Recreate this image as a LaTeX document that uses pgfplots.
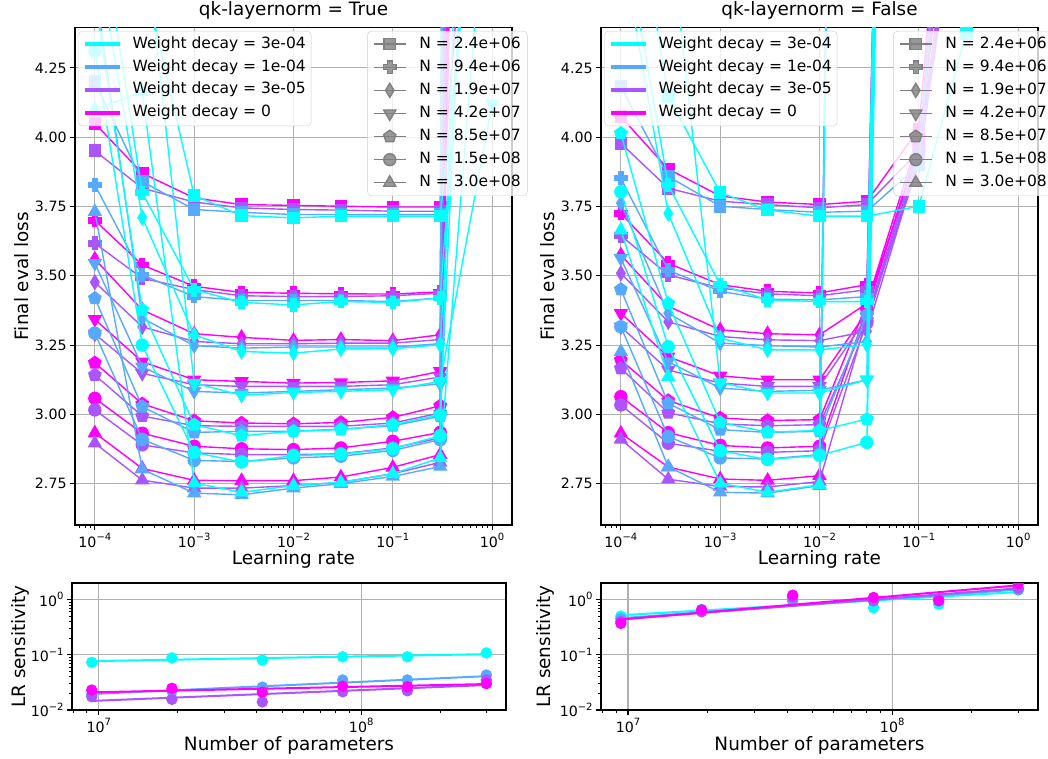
\documentclass[border=0pt]{standalone}
\usepackage{fontspec}
\setmainfont{DejaVu Sans}
\usepackage{pgfplots}
\pgfplotsset{compat=1.18}
\usepackage{pgfplotstable}
\usetikzlibrary{plotmarks}

\definecolor{cC}{RGB}{0,255,255}
\definecolor{cB}{RGB}{85,170,255}
\definecolor{cP}{RGB}{170,85,255}
\definecolor{cM}{RGB}{255,0,255}
\definecolor{gr}{RGB}{128,128,128}
\definecolor{gridc}{RGB}{176,176,176}
\definecolor{legc}{RGB}{204,204,204}

\newcommand{\tp}[1]{10\raisebox{0.45em}{\fontsize{10}{10}\selectfont #1}}
\newcommand{\lf}{\fontsize{15.5}{15.5}\selectfont}

\pgfdeclareplotmark{fplus}{%
  \pgfpathmoveto{\pgfqpoint{-\pgfplotmarksize}{-0.4\pgfplotmarksize}}%
  \pgfpathlineto{\pgfqpoint{-\pgfplotmarksize}{0.4\pgfplotmarksize}}%
  \pgfpathlineto{\pgfqpoint{-0.4\pgfplotmarksize}{0.4\pgfplotmarksize}}%
  \pgfpathlineto{\pgfqpoint{-0.4\pgfplotmarksize}{\pgfplotmarksize}}%
  \pgfpathlineto{\pgfqpoint{0.4\pgfplotmarksize}{\pgfplotmarksize}}%
  \pgfpathlineto{\pgfqpoint{0.4\pgfplotmarksize}{0.4\pgfplotmarksize}}%
  \pgfpathlineto{\pgfqpoint{\pgfplotmarksize}{0.4\pgfplotmarksize}}%
  \pgfpathlineto{\pgfqpoint{\pgfplotmarksize}{-0.4\pgfplotmarksize}}%
  \pgfpathlineto{\pgfqpoint{0.4\pgfplotmarksize}{-0.4\pgfplotmarksize}}%
  \pgfpathlineto{\pgfqpoint{0.4\pgfplotmarksize}{-\pgfplotmarksize}}%
  \pgfpathlineto{\pgfqpoint{-0.4\pgfplotmarksize}{-\pgfplotmarksize}}%
  \pgfpathlineto{\pgfqpoint{-0.4\pgfplotmarksize}{-0.4\pgfplotmarksize}}%
  \pgfpathclose
  \pgfusepathqfillstroke
}

\tikzset{
  mk1/.style={mark=square*, mark size=5.6pt},
  mk2/.style={mark=fplus, mark size=6.2pt},
  mk3/.style={mark=diamond*, mark size=7pt, mark options={xscale=0.8}},
  mk4/.style={mark=triangle*, mark size=7pt, mark options={rotate=180}},
  mk5/.style={mark=pentagon*, mark size=6.4pt},
  mk6/.style={mark=*, mark size=6pt},
  mk7/.style={mark=triangle*, mark size=7pt},
}
\pgfplotsset{
  myBase/.style={
    scale only axis,
    axis line style={line width=1.1pt},
    major tick style={line width=1.1pt, black},
    minor tick style={line width=0.8pt, black},
    major tick length=4.9pt, minor tick length=2.8pt,
    tick align=outside, tick pos=left,
    xmajorgrids, ymajorgrids,
    grid style={line width=1.1pt, color=gridc},
    ticklabel style={font=\fontsize{14.2}{14.2}\selectfont},
    label style={font=\fontsize{18.4}{18.4}\selectfont},
    title style={font=\fontsize{18.4}{18.4}\selectfont, at={(0.5,1)}, anchor=base, yshift=6pt},
    clip marker paths=true,
    every axis plot/.append style={line width=1.4pt},
    every mark/.append style={line width=0.3pt},
  },
  myLegA/.style={
    legend style={at={(0.0076,0.9926)}, anchor=north west, draw=legc, fill=white,
      fill opacity=0.8, text opacity=1, draw opacity=1, rounded corners=4pt,
      inner xsep=4.4pt, inner ysep=4pt, row sep=4.9pt, column sep=9.7pt,
      nodes={inner sep=1pt, text height=12pt, text depth=4pt}},
    legend cell align=left,
  },
  myLegB/.style={
    legend style={at={(0.669,0.9926)}, anchor=north west, draw=legc, fill=white,
      fill opacity=0.8, text opacity=1, draw opacity=1, rounded corners=4pt,
      inner xsep=5.5pt, inner ysep=4pt, row sep=5.1pt, column sep=12pt,
      nodes={inner sep=1pt, text height=12pt, text depth=4pt}},
    legend cell align=left,
  },
}

% lr sweeps, qk-layernorm = True (m: wd 0, p: 3e-5, b: 1e-4, c: 3e-4; index = N)
\pgfplotstableread{
lr   m1    m2    m3    m4    m5    m6    m7    p1    p2    p3    p4    p5    p6    p7    b1    b2    b3    b4    b5    b6    b7    c1    c2    c3    c4    c5    c6    c7
1e-4 4.050 3.700 3.560 3.343 3.186 3.058 2.933 3.951 3.617 3.477 3.290 3.142 3.016 2.896 4.200 3.828 4.550 3.545 3.419 3.293 3.731 5.200 4.900 4.700 4.900 4.500 4.310 4.100
3e-4 3.870 3.539 3.377 3.190 3.038 2.932 2.805 3.816 3.491 3.316 3.148 2.994 2.890 2.763 3.840 3.503 3.347 3.172 3.028 2.910 2.802 4.600 3.800 3.710 4.800 3.377 3.250 4.164
1e-3 3.781 3.462 3.291 3.125 2.977 2.885 2.762 3.766 3.450 3.263 3.107 2.959 2.861 2.734 3.739 3.425 3.248 3.083 2.935 2.834 2.716 3.790 3.450 3.287 3.113 2.963 2.863 2.752
3e-3 3.757 3.440 3.278 3.119 2.969 2.876 2.761 3.745 3.428 3.255 3.101 2.957 2.855 2.734 3.729 3.411 3.239 3.077 2.939 2.830 2.710 3.717 3.404 3.227 3.069 2.923 2.828 2.719
1e-2 3.754 3.437 3.267 3.113 2.966 2.873 2.761 3.739 3.425 3.255 3.101 2.957 2.855 2.743 3.721 3.411 3.243 3.083 2.939 2.843 2.734 3.709 3.395 3.221 3.079 2.939 2.851 2.743
3e-2 3.751 3.435 3.270 3.115 2.971 2.879 2.774 3.737 3.425 3.257 3.101 2.957 2.858 2.755 3.721 3.411 3.243 3.089 2.947 2.849 2.750 3.715 3.407 3.236 3.083 2.945 2.857 2.755
1e-1 3.748 3.434 3.266 3.121 2.989 2.903 2.809 3.733 3.428 3.257 3.107 2.969 2.879 2.786 3.721 3.407 3.243 3.095 2.959 2.870 2.776 3.715 3.404 3.237 3.089 2.963 2.876 2.786
3e-1 3.748 3.442 3.287 3.155 3.031 2.935 2.855 3.733 3.437 3.270 3.135 3.005 2.915 2.827 3.721 3.420 3.255 3.110 2.993 2.909 2.812 3.715 3.420 3.251 3.119 2.999 2.923 2.843
1    6.0   12    12    12    12    12    12    20    20    20    20    20    20    20    40    40    40    40    40    40    40    5.5   6.0   6.5   4.12  7.0   9.0   5.2
}\TL

% qk-layernorm = False
\pgfplotstableread{
lr   m1    m2    m3    m4    m5    m6    m7    p1    p2    p3    p4    p5    p6    p7    b1    b2    b3    b4    b5    b6    b7    c1    c2    c3    c4    c5    c6    c7
1e-4 4.074 3.725 3.575 3.365 3.196 3.064 2.932 3.978 3.645 3.509 3.316 3.166 3.034 2.910 4.182 3.852 3.762 3.563 3.451 3.316 3.226 5.200 4.800 4.700 4.900 4.014 3.803 3.665
3e-4 3.885 3.545 3.390 3.208 3.050 2.934 2.810 3.816 3.503 3.334 3.160 3.006 2.896 2.766 3.858 3.520 3.365 3.190 3.040 2.920 2.811 4.146 3.828 3.725 4.800 3.400 3.244 3.136
1e-3 3.788 3.468 3.305 3.139 2.987 2.888 2.767 3.769 3.456 3.281 3.113 2.966 2.867 2.740 3.751 3.444 3.257 3.095 2.945 2.843 2.719 3.800 3.468 3.275 3.115 2.971 2.869 2.752
3e-3 3.766 3.444 3.291 3.125 2.978 2.879 2.762 3.757 3.435 3.269 3.101 2.959 2.863 2.738 3.739 3.416 3.248 3.083 2.935 2.839 2.716 3.737 3.413 3.233 3.077 2.936 2.837 2.719
1e-2 3.757 3.438 3.287 3.125 2.981 2.885 2.779 3.745 3.428 3.266 3.101 2.963 2.869 2.758 3.729 3.413 3.243 3.087 2.939 2.855 2.743 3.715 3.407 3.233 3.077 2.942 2.852 2.746
3e-2 3.769 3.468 3.400 3.370 3.400 3.380 15    3.757 3.450 3.300 3.350 3.340 3.330 3.350 3.733 3.425 3.263 3.125 3.360 15    15    3.715 3.407 3.251 3.125 2.983 2.899 15
1e-1 4.030 12    3.950 3.980 4.000 3.970 12    3.950 12    3.920 3.900 3.950 3.930 3.960 3.900 12    12    12    12    12    12    3.751 12    12    12    12    12    12
3e-1 6.0   nan   5.2   5.4   5.0   5.6   nan   6.0   nan   5.3   5.1   5.5   5.2   5.0   6.0   nan   nan   nan   nan   nan   nan   4.375 nan   nan   nan   nan   nan   nan
}\TR

% LR sensitivity
\pgfplotstableread{
N     c      b      p      m
9.4e6 0.073  0.019  0.0174 0.023
1.9e7 0.088  0.022  0.0156 0.0247
4.2e7 0.080  0.026  0.0140 0.021
8.5e7 0.092  0.035  0.0214 0.027
1.5e8 0.092  0.035  0.0223 0.0264
3.0e8 0.108  0.043  0.035  0.030
}\BL
\pgfplotstableread{
N     c      b      p      m
9.4e6 0.50   0.45   0.40   0.37
1.9e7 0.66   0.62   0.60   0.65
4.2e7 1.00   0.95   1.10   1.20
8.5e7 0.71   0.95   0.95   1.09
1.5e8 0.82   1.05   1.00   0.95
3.0e8 1.50   1.50   1.60   1.95
}\BR

\begin{document}
\begin{tikzpicture}[x=1pt,y=1pt]

% ---------- top left ----------
\begin{axis}[myBase, myLegA, at={(75pt,234pt)}, anchor=south west, title={qk-layernorm = True},
    width=437pt, height=497.7pt,
    xmode=log, xmin=6.3096e-5, xmax=1.58489, ymin=2.601, ymax=4.3965,
    xtick={1e-4,1e-3,1e-2,1e-1,1},
    xticklabels={\tp{−4},\tp{−3},\tp{−2},\tp{−1},\tp{0}},
    minor xtick={7e-5,8e-5,9e-5,2e-4,3e-4,4e-4,5e-4,6e-4,7e-4,8e-4,9e-4,2e-3,3e-3,4e-3,5e-3,6e-3,7e-3,8e-3,9e-3,2e-2,3e-2,4e-2,5e-2,6e-2,7e-2,8e-2,9e-2,2e-1,3e-1,4e-1,5e-1,6e-1,7e-1,8e-1,9e-1},
    ytick={2.75,3.00,3.25,3.50,3.75,4.00,4.25},
    yticklabels={2.75,3.00,3.25,3.50,3.75,4.00,4.25},
    xlabel={Learning rate}, ylabel={Final eval loss},
    xlabel style={at={(axis description cs:0.5,-0.0784)}, anchor=base},
    ylabel style={at={(axis description cs:-0.121,0.5)}, anchor=center},
    legend image code/.code={\draw[#1, line width=4.5pt] (0pt,0pt) -- (34.6pt,0pt);}]
\pgfplotsinvokeforeach{1,...,7}{\addplot[cM, mk#1, forget plot] table[x=lr,y=m#1]{\TL};}
\pgfplotsinvokeforeach{1,...,7}{\addplot[cP, mk#1, forget plot] table[x=lr,y=p#1]{\TL};}
\pgfplotsinvokeforeach{1,...,7}{\addplot[cB, mk#1, forget plot] table[x=lr,y=b#1]{\TL};}
\pgfplotsinvokeforeach{1,...,7}{\addplot[cC, mk#1, forget plot] table[x=lr,y=c#1]{\TL};}
\addlegendimage{cC}\addlegendentry{\lf Weight decay = 3e-04}
\addlegendimage{cB}\addlegendentry{\lf Weight decay = 1e-04}
\addlegendimage{cP}\addlegendentry{\lf Weight decay = 3e-05}
\addlegendimage{cM}\addlegendentry{\lf Weight decay = 0}
\end{axis}
\begin{axis}[myLegB, at={(75pt,234pt)}, anchor=south west,
    scale only axis, width=437pt, height=497.7pt, hide axis,
    xmin=0, xmax=1, ymin=0, ymax=1,
    legend image code/.code={\draw[mark repeat=2, mark phase=2, line width=1.4pt, #1] plot coordinates {(0pt,0pt) (16pt,0pt) (32pt,0pt)};}]
\addlegendimage{gr, mk1}\addlegendentry{\lf N = 2.4e+06}
\addlegendimage{gr, mk2}\addlegendentry{\lf N = 9.4e+06}
\addlegendimage{gr, mk3}\addlegendentry{\lf N = 1.9e+07}
\addlegendimage{gr, mk4}\addlegendentry{\lf N = 4.2e+07}
\addlegendimage{gr, mk5}\addlegendentry{\lf N = 8.5e+07}
\addlegendimage{gr, mk6}\addlegendentry{\lf N = 1.5e+08}
\addlegendimage{gr, mk7}\addlegendentry{\lf N = 3.0e+08}
\end{axis}

% ---------- top right ----------
\begin{axis}[myBase, myLegA, at={(601pt,234pt)}, anchor=south west, title={qk-layernorm = False},
    width=437pt, height=497.7pt,
    xmode=log, xmin=6.3096e-5, xmax=1.58489, ymin=2.601, ymax=4.3965,
    xtick={1e-4,1e-3,1e-2,1e-1,1},
    xticklabels={\tp{−4},\tp{−3},\tp{−2},\tp{−1},\tp{0}},
    minor xtick={7e-5,8e-5,9e-5,2e-4,3e-4,4e-4,5e-4,6e-4,7e-4,8e-4,9e-4,2e-3,3e-3,4e-3,5e-3,6e-3,7e-3,8e-3,9e-3,2e-2,3e-2,4e-2,5e-2,6e-2,7e-2,8e-2,9e-2,2e-1,3e-1,4e-1,5e-1,6e-1,7e-1,8e-1,9e-1},
    ytick={2.75,3.00,3.25,3.50,3.75,4.00,4.25},
    yticklabels={2.75,3.00,3.25,3.50,3.75,4.00,4.25},
    xlabel={Learning rate}, ylabel={Final eval loss},
    xlabel style={at={(axis description cs:0.5,-0.0784)}, anchor=base},
    ylabel style={at={(axis description cs:-0.121,0.5)}, anchor=center},
    legend image code/.code={\draw[#1, line width=4.5pt] (0pt,0pt) -- (34.6pt,0pt);}]
\pgfplotsinvokeforeach{1,...,7}{\addplot[cM, mk#1, forget plot] table[x=lr,y=m#1]{\TR};}
\pgfplotsinvokeforeach{1,...,7}{\addplot[cP, mk#1, forget plot] table[x=lr,y=p#1]{\TR};}
\pgfplotsinvokeforeach{1,...,7}{\addplot[cB, mk#1, forget plot] table[x=lr,y=b#1]{\TR};}
\pgfplotsinvokeforeach{1,...,7}{\addplot[cC, mk#1, forget plot] table[x=lr,y=c#1]{\TR};}
\addlegendimage{cC}\addlegendentry{\lf Weight decay = 3e-04}
\addlegendimage{cB}\addlegendentry{\lf Weight decay = 1e-04}
\addlegendimage{cP}\addlegendentry{\lf Weight decay = 3e-05}
\addlegendimage{cM}\addlegendentry{\lf Weight decay = 0}
\end{axis}
\begin{axis}[myLegB, at={(601pt,234pt)}, anchor=south west,
    scale only axis, width=437pt, height=497.7pt, hide axis,
    xmin=0, xmax=1, ymin=0, ymax=1,
    legend image code/.code={\draw[mark repeat=2, mark phase=2, line width=1.4pt, #1] plot coordinates {(0pt,0pt) (16pt,0pt) (32pt,0pt)};}]
\addlegendimage{gr, mk1}\addlegendentry{\lf N = 2.4e+06}
\addlegendimage{gr, mk2}\addlegendentry{\lf N = 9.4e+06}
\addlegendimage{gr, mk3}\addlegendentry{\lf N = 1.9e+07}
\addlegendimage{gr, mk4}\addlegendentry{\lf N = 4.2e+07}
\addlegendimage{gr, mk5}\addlegendentry{\lf N = 8.5e+07}
\addlegendimage{gr, mk6}\addlegendentry{\lf N = 1.5e+08}
\addlegendimage{gr, mk7}\addlegendentry{\lf N = 3.0e+08}
\end{axis}

% ---------- bottom left ----------
\begin{axis}[myBase, at={(72pt,49pt)}, anchor=south west, width=434pt, height=127pt,
    xmode=log, ymode=log, xmin=7.907e6, xmax=3.565e8, ymin=0.01, ymax=1.995,
    xtick={1e7,1e8}, xticklabels={\tp{7},\tp{8}},
    ytick={0.01,0.1,1}, yticklabels={\tp{−2},\tp{−1},\tp{0}},
    minor xtick={8e6,9e6,2e7,3e7,4e7,5e7,6e7,7e7,8e7,9e7,2e8,3e8},
    minor ytick={0.02,0.03,0.04,0.05,0.06,0.07,0.08,0.09,0.2,0.3,0.4,0.5,0.6,0.7,0.8,0.9,2},
    xlabel={Number of parameters}, ylabel={LR sensitivity},
    xlabel style={at={(axis description cs:0.5,-0.315)}, anchor=base},
    ylabel style={at={(axis description cs:-0.12,0.5)}, anchor=center}]
\addplot[cC, only marks, mark=*, mark size=5pt] table[x=N,y=c]{\BL};
\addplot[cC, line width=2pt] coordinates {(9.4e6,0.0767) (3.0e8,0.1027)};
\addplot[cB, only marks, mark=*, mark size=5pt] table[x=N,y=b]{\BL};
\addplot[cB, line width=2pt] coordinates {(9.4e6,0.0195) (3.0e8,0.041)};
\addplot[cP, only marks, mark=*, mark size=5pt] table[x=N,y=p]{\BL};
\addplot[cP, line width=2pt] coordinates {(9.4e6,0.0146) (3.0e8,0.0283)};
\addplot[cM, only marks, mark=*, mark size=5pt] table[x=N,y=m]{\BL};
\addplot[cM, line width=2pt] coordinates {(9.4e6,0.0209) (3.0e8,0.0295)};
\end{axis}

% ---------- bottom right ----------
\begin{axis}[myBase, at={(601pt,49pt)}, anchor=south west, width=437pt, height=127pt,
    xmode=log, ymode=log, xmin=7.907e6, xmax=3.565e8, ymin=0.01, ymax=1.995,
    xtick={1e7,1e8}, xticklabels={\tp{7},\tp{8}},
    ytick={0.01,0.1,1}, yticklabels={\tp{−2},\tp{−1},\tp{0}},
    minor xtick={8e6,9e6,2e7,3e7,4e7,5e7,6e7,7e7,8e7,9e7,2e8,3e8},
    minor ytick={0.02,0.03,0.04,0.05,0.06,0.07,0.08,0.09,0.2,0.3,0.4,0.5,0.6,0.7,0.8,0.9,2},
    xlabel={Number of parameters}, ylabel={LR sensitivity},
    xlabel style={at={(axis description cs:0.5,-0.315)}, anchor=base},
    ylabel style={at={(axis description cs:-0.127,0.5)}, anchor=center}]
\addplot[cC, only marks, mark=*, mark size=5pt] table[x=N,y=c]{\BR};
\addplot[cC, line width=2pt] coordinates {(9.4e6,0.52) (3.0e8,1.37)};
\addplot[cB, only marks, mark=*, mark size=5pt] table[x=N,y=b]{\BR};
\addplot[cB, line width=2pt] coordinates {(9.4e6,0.46) (3.0e8,1.52)};
\addplot[cP, only marks, mark=*, mark size=5pt] table[x=N,y=p]{\BR};
\addplot[cP, line width=2pt] coordinates {(9.4e6,0.44) (3.0e8,1.60)};
\addplot[cM, only marks, mark=*, mark size=5pt] table[x=N,y=m]{\BR};
\addplot[cM, line width=2pt] coordinates {(9.4e6,0.435) (3.0e8,1.81)};
\end{axis}

\pgfresetboundingbox
\useasboundingbox (0,0) rectangle (1048,759);
\end{tikzpicture}
\end{document}
